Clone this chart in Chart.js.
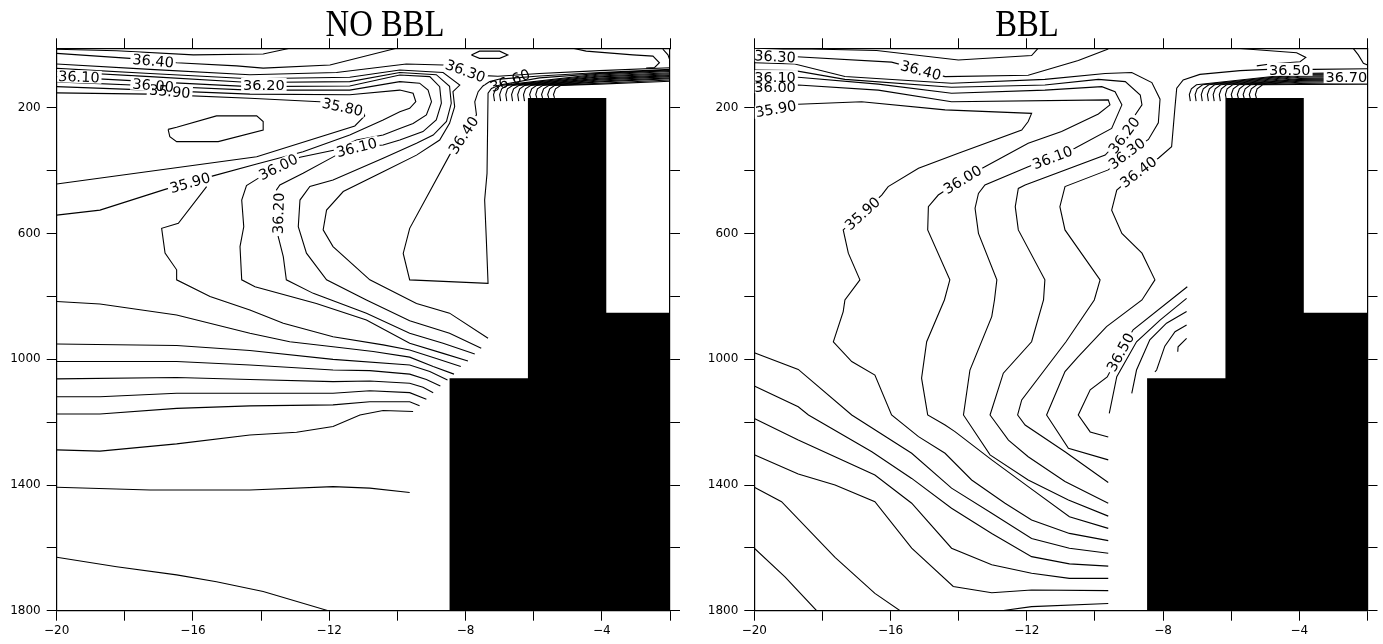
<!DOCTYPE html>
<html>
<head>
<meta charset="utf-8">
<script src="https://cdn.jsdelivr.net/npm/chart.js@4/dist/chart.umd.min.js"></script>
<style>
  html, body { margin: 0; padding: 0; background: #fff; }
  #wrap { position: relative; width: 1383px; height: 644px; }
  #left { position: absolute; left: 0; top: 0; }
  #right { position: absolute; left: 697px; top: 0; }
</style>
</head>
<body>
<div id="wrap">
  <canvas id="left" width="697" height="644"></canvas>
  <canvas id="right" width="686" height="644"></canvas>
</div>
<script>
// axes
const xTicks = [-20, -18, -16, -14, -12, -10, -8, -6, -4, -2];
const xLabels = [-20, -16, -12, -8, -4];
const yTicks = [200, 400, 600, 800, 1000, 1200, 1400, 1600, 1800];
const yLabels = [200, 600, 1000, 1400, 1800];

// topography (masked region), same in both runs
const topoX = [-8.47, -8.47, -6.17, -6.17, -3.87, -3.87, -2, -2];
const topoY = [1800, 1060, 1060, 168, 168, 852, 852, 1800];

// salinity contours, NO BBL run: [longitude, depth] pairs
const noBblLines = [
  [[-20,13],[-18.24,18],[-15.99,31],[-13.94,28],[-13.16,10]],
  [[-20,26],[-17.85,42],[-16.48,56],[-14.72,66],[-13.94,73],[-11.98,63],[-10.03,10]],
  [[-20,60],[-17.26,77],[-14.33,94],[-11.79,87],[-9.74,60],[-8.66,63],[-7.98,84],[-7.45,97],[-7.05,99],[-5.83,90],[-4.07,81],[-2,72]],
  [[-2,77],[-4.07,87],[-5.83,98],[-7.0,108],[-7.29,116],[-7.49,130],[-7.63,148],[-7.73,180],[-7.68,222],[-8.07,286],[-8.47,350],[-9.64,583],[-9.83,663],[-9.64,747],[-7.34,758],[-7.39,620],[-7.44,493],[-7.37,408],[-7.34,153],[-7.24,138],[-7.0,127],[-5.83,104],[-4.07,90],[-2,79]],
  [[-20,74],[-17.26,90],[-14.33,107],[-11.40,102],[-9.93,79],[-8.66,87],[-8.17,127],[-8.37,148],[-8.32,196],[-8.47,249],[-8.76,302],[-9.44,350],[-10.42,403],[-11.59,466],[-12.08,525],[-12.18,588],[-11.89,641],[-10.81,747],[-9.44,822],[-8.47,853],[-7.34,933]],
  [[-20,84],[-17.26,100],[-14.33,119],[-11.40,116],[-9.93,87],[-8.86,94],[-8.47,131],[-8.42,185],[-8.56,243],[-8.95,286],[-9.44,312],[-10.42,360],[-11.89,429],[-12.57,450],[-12.86,493],[-12.91,578],[-12.67,662],[-12.08,747],[-10.91,811],[-9.64,877],[-8.47,917],[-7.54,965]],
  [[-20,100],[-17.26,116],[-14.33,132],[-11.40,130],[-9.93,95],[-9.05,100],[-8.76,132],[-8.71,185],[-8.86,238],[-9.25,275],[-9.93,302],[-10.42,318],[-11.20,325],[-11.79,350],[-12.77,408],[-13.45,445],[-13.55,461],[-13.50,535],[-13.50,609],[-13.35,673],[-13.26,747],[-12.47,790],[-10.91,853],[-9.64,917],[-8.66,949],[-7.73,983]],
  [[-20,117],[-17.26,129],[-14.33,143],[-11.40,143],[-9.93,116],[-9.35,121],[-9.10,143],[-9.00,180],[-9.15,222],[-9.54,249],[-9.93,265],[-10.42,286],[-11.20,302],[-11.84,334],[-12.86,357],[-13.45,387],[-14.09,424],[-14.43,447],[-14.57,493],[-14.51,578],[-14.62,641],[-14.57,747],[-14.18,769],[-12.38,822],[-10.91,875],[-9.64,949],[-8.66,981],[-7.93,1005]],
  [[-20,132],[-17.26,143],[-14.33,156],[-11.40,158],[-9.93,143],[-9.54,153],[-9.46,180],[-9.64,201],[-9.93,212],[-10.42,238],[-11.40,286],[-12.77,339],[-14.13,378],[-15.41,416],[-16.82,459],[-18.73,525],[-20,541]],
  [[-20,152],[-17.26,156],[-14.33,169],[-12.28,180],[-11.40,201],[-11.01,212],[-10.96,225],[-11.25,257],[-14.13,355],[-20,442]],
  [[-15.60,450],[-16.43,567],[-16.92,583],[-16.82,662],[-16.48,715],[-16.48,747],[-15.50,800],[-14.33,843],[-13.35,885],[-11.89,928],[-10.42,954],[-9.64,970],[-8.86,997],[-8.14,1023]],
  [[-20,816],[-18.73,824],[-16.48,859],[-14.33,917],[-13.16,944],[-11.89,960],[-10.71,975],[-9.64,993],[-8.95,1023],[-8.34,1047]],
  [[-20,951],[-16.48,956],[-14.33,972],[-11.89,1000],[-9.64,1018],[-9.05,1039],[-8.53,1066]],
  [[-20,1007],[-16.48,1007],[-14.33,1018],[-11.89,1034],[-10.81,1036],[-9.64,1047],[-9.15,1064],[-8.74,1085]],
  [[-20,1062],[-16.48,1058],[-14.33,1064],[-11.89,1071],[-10.81,1069],[-9.64,1076],[-9.25,1089],[-8.95,1106]],
  [[-20,1119],[-18.73,1119],[-16.48,1108],[-11.89,1108],[-10.81,1100],[-9.64,1106],[-9.15,1127]],
  [[-20,1174],[-18.73,1174],[-16.48,1156],[-14.33,1148],[-11.89,1145],[-10.81,1135],[-9.64,1135],[-9.35,1148]],
  [[-20,1288],[-18.73,1292],[-16.48,1269],[-14.33,1241],[-12.96,1232],[-11.89,1214],[-11.10,1177],[-10.42,1163],[-9.54,1166]],
  [[-20,1407],[-17.26,1416],[-14.33,1416],[-11.89,1405],[-10.81,1410],[-9.64,1424]],
  [[-20,1630],[-18.24,1660],[-16.48,1686],[-15.31,1708],[-13.94,1739],[-12.03,1800]],
  [[-16.73,268],[-16.48,261],[-15.31,225],[-14.13,225],[-13.94,243],[-13.94,270],[-15.26,307],[-16.48,307],[-16.68,291],[-16.73,268]],
  [[-7.83,31],[-7.59,19],[-7.0,19],[-6.76,31],[-7.0,42],[-7.59,42],[-7.83,31]],
  [[-4.85,10],[-4.46,19],[-3.09,31],[-2.50,35],[-2.31,56],[-2.45,71],[-2.70,73]],
  [[-2.21,13],[-2.06,31],[-2.0,49]]
];
const noBblHooks = [
  [[-7.15,178],[-7.18,157],[-7.12,139],[-6.96,128],[-4.07,92],[-2,81]],
  [[-6.97,178],[-7.00,157],[-6.94,139],[-6.78,128],[-4.07,95],[-2,84]],
  [[-6.79,178],[-6.82,157],[-6.77,139],[-6.61,128],[-4.07,98],[-2,88]],
  [[-6.62,178],[-6.65,157],[-6.59,139],[-6.43,128],[-4.07,101],[-2,91]],
  [[-6.44,178],[-6.47,157],[-6.41,139],[-6.26,128],[-4.07,105],[-2,94]],
  [[-6.27,178],[-6.30,157],[-6.24,139],[-6.08,128],[-4.07,108],[-2,97]],
  [[-6.09,168],[-6.12,157],[-6.06,139],[-5.91,128],[-4.07,111],[-2,100]],
  [[-5.91,168],[-5.94,157],[-5.89,139],[-5.73,128],[-4.07,114],[-2,104]],
  [[-5.74,168],[-5.77,157],[-5.71,139],[-5.55,128],[-4.07,117],[-2,107]],
  [[-5.56,168],[-5.59,157],[-5.53,139],[-5.38,128],[-4.07,121],[-2,111]],
  [[-5.39,168],[-5.42,157],[-5.36,139],[-5.20,128],[-4.07,124],[-2,115]]
];
const noBblLabelText = ['36.40','36.10','36.00','35.90','36.20','35.80','36.30','36.60','36.40','36.10','36.00','35.90','36.20'];
const noBblLabelAt = [[-17.17,49],[-19.35,100],[-17.17,127],[-16.68,146],[-13.92,125],[-11.61,196],[-8.0,81],[-6.70,112],[-8.07,286],[-11.20,325],[-13.50,387],[-16.09,437],[-13.50,535]];

// salinity contours, BBL run
const bblLines = [
  [[-20,12],[-18.32,12],[-16.41,17],[-14.01,47],[-11.86,33],[-11.67,10]],
  [[-20,32],[-18.76,37],[-15.97,54],[-15.11,79],[-14.40,100],[-11.96,96],[-10.49,49],[-9.61,12]],
  [[-20,56],[-18.81,60],[-17.34,100],[-14.21,121],[-11.47,109],[-9.70,90],[-8.92,87],[-8.33,119],[-8.09,172],[-8.14,247],[-8.43,300],[-9.02,344],[-9.61,397],[-10.88,450],[-11.03,514],[-10.88,588],[-9.85,747],[-10.02,811],[-10.85,944],[-12.15,1129],[-12.27,1177],[-12.05,1209],[-10.88,1294],[-9.61,1392]],
  [[-20,79],[-18.81,81],[-17.34,109],[-14.21,134],[-11.47,127],[-9.90,109],[-9.11,116],[-8.67,159],[-8.62,190],[-8.92,238],[-9.15,286],[-9.70,350],[-12.05,445],[-12.25,456],[-12.34,514],[-12.25,588],[-11.47,747],[-11.51,811],[-11.86,944],[-12.69,1044],[-13.08,1177],[-12.54,1257],[-11.96,1310],[-10.88,1389],[-9.61,1458]],
  [[-20,100],[-18.71,102],[-16.36,124],[-14.21,153],[-11.47,143],[-9.80,132],[-9.41,148],[-9.21,190],[-9.51,265],[-10.59,328],[-11.25,357],[-11.96,387],[-13.23,445],[-13.42,472],[-13.52,519],[-13.42,599],[-12.88,747],[-12.95,811],[-13.03,864],[-13.67,1034],[-13.86,1177],[-13.08,1304],[-11.96,1384],[-10.78,1448],[-9.61,1499]],
  [[-20,130],[-18.71,127],[-16.36,143],[-14.21,180],[-9.61,174],[-9.56,190],[-9.90,219],[-10.98,275],[-11.96,312],[-13.23,387],[-13.89,427],[-14.60,477],[-14.89,514],[-14.91,588],[-14.26,747],[-14.42,811],[-14.94,944],[-15.09,1060],[-14.91,1177],[-14.40,1209],[-14.11,1230],[-13.03,1320],[-11.96,1405],[-10.75,1501],[-9.61,1538]],
  [[-20,212],[-18.71,188],[-16.85,180],[-14.40,206],[-11.86,217],[-11.96,243],[-12.15,270],[-14.01,344],[-15.18,392],[-16.07,450],[-16.26,477],[-16.83,535],[-17.39,588],[-17.24,662],[-16.90,747],[-17.34,811],[-17.39,848],[-17.68,944],[-17.14,1007],[-16.46,1050],[-15.97,1177],[-15.18,1246],[-14.40,1299],[-13.62,1384],[-12.64,1458],[-11.86,1511],[-10.75,1554],[-9.61,1577]],
  [[-2,75],[-3.59,77],[-4.91,77],[-5.74,81],[-6.92,93],[-7.41,111],[-7.60,137],[-7.65,196],[-7.75,323],[-8.14,360],[-8.73,403],[-9.36,461],[-9.51,525],[-9.21,599],[-8.62,662],[-8.24,747],[-8.62,811],[-9.66,896],[-10.49,991],[-10.88,1039],[-11.42,1177],[-10.78,1283],[-9.61,1320]],
  [[-7.29,769],[-8.88,906],[-9.26,977],[-9.64,1056],[-10.14,1097],[-10.49,1177],[-10.14,1231],[-9.61,1247]],
  [[-7.31,806],[-8.09,875],[-8.78,944],[-9.36,1055],[-9.58,1172]],
  [[-7.31,848],[-7.90,885],[-8.39,938],[-8.78,1034],[-8.92,1108]],
  [[-7.31,891],[-7.65,912],[-7.95,958],[-8.19,1034],[-8.24,1040]],
  [[-7.31,933],[-7.56,960],[-7.57,976]],
  [[-20,979],[-18.71,1032],[-17.14,1177],[-15.38,1299],[-14.21,1410],[-13.03,1490],[-11.86,1570],[-10.75,1601],[-9.61,1617]],
  [[-20,1085],[-18.71,1151],[-18.41,1177],[-16.55,1294],[-15.38,1379],[-14.21,1474],[-13.03,1554],[-11.86,1628],[-10.75,1651],[-9.61,1658]],
  [[-20,1188],[-18.71,1257],[-16.46,1368],[-15.38,1458],[-14.21,1601],[-13.03,1654],[-11.86,1681],[-10.75,1697],[-9.61,1697]],
  [[-20,1304],[-18.71,1365],[-17.63,1400],[-16.46,1453],[-15.38,1601],[-14.16,1723],[-13.03,1743],[-11.86,1734],[-9.61,1736]],
  [[-20,1407],[-19.20,1453],[-17.63,1630],[-16.46,1745],[-15.72,1800]],
  [[-20,1601],[-19.10,1692],[-18.17,1800]],
  [[-12.74,1800],[-11.86,1787],[-9.61,1777]],
  [[-5.84,10],[-4.08,24],[-3.81,39],[-3.98,53],[-4.86,60],[-5.25,66]],
  [[-2.42,10],[-2.27,31],[-2.12,58],[-2.0,63]]
];
const bblHooks = [
  [[-7.20,178],[-7.23,157],[-7.17,139],[-7.02,126],[-3.98,90],[-2,86]],
  [[-7.03,178],[-7.06,157],[-7.00,139],[-6.84,126],[-3.98,93],[-2,89]],
  [[-6.85,178],[-6.88,157],[-6.82,139],[-6.66,126],[-3.98,96],[-2,92]],
  [[-6.67,178],[-6.70,157],[-6.64,139],[-6.49,126],[-3.98,99],[-2,95]],
  [[-6.50,178],[-6.53,157],[-6.47,139],[-6.31,126],[-3.98,102],[-2,98]],
  [[-6.32,178],[-6.35,157],[-6.29,139],[-6.14,126],[-3.98,106],[-2,101]],
  [[-6.15,169],[-6.17,157],[-6.12,139],[-5.96,126],[-3.98,109],[-2,105]],
  [[-5.97,169],[-6.00,157],[-5.94,139],[-5.78,126],[-3.98,112],[-2,108]],
  [[-5.79,169],[-5.82,157],[-5.76,139],[-5.61,126],[-3.98,115],[-2,111]],
  [[-5.62,169],[-5.65,157],[-5.59,139],[-5.43,126],[-3.98,118],[-2,115]],
  [[-5.44,169],[-5.47,157],[-5.41,139],[-5.25,126],[-3.98,122],[-2,119]],
  [[-5.26,169],[-5.29,157],[-5.24,139],[-5.08,126],[-3.98,125],[-2,124]]
];
const bblLabelText = ['36.30','36.40','36.10','36.00','35.90','35.90','36.00','36.10','36.20','36.30','36.40','36.50','36.50','36.70'];
const bblLabelAt = [[-19.39,35],[-15.11,79],[-19.39,100],[-19.39,132],[-19.37,202],[-16.83,535],[-13.89,427],[-11.25,357],[-9.15,286],[-9.07,344],[-8.73,403],[-9.26,977],[-4.28,77],[-2.62,100]];

// label drawing style: rotation in degrees, and whether the line is cut under the label
const noBblLabelAngle = [5, 2, 5, 5, 0, 12, 20, -20, -56, -14, -26, -16, -88];
const noBblLabelGap = [1, 1, 1, 1, 1, 1, 1, 0, 1, 1, 1, 1, 1];
const bblLabelAngle = [3, 15, 0, 0, -10, -42, -31, -21, -53, -37, -37, -61, 0, 0];
const bblLabelGap = [1, 1, 1, 1, 1, 1, 1, 1, 1, 1, 1, 1, 1, 1];

function toDatasets(lines) {
  return lines.map(pts => ({
    data: pts.map(([x, y]) => ({ x, y })),
    showLine: true,
    borderColor: '#000',
    borderWidth: 1.1,
    pointRadius: 0,
    pointHoverRadius: 0,
    fill: false,
    tension: 0
  }));
}

function makeDecor(title, titleX, text, at, angle, gap) {
  return {
    id: 'panelDecor',
    afterDatasetsDraw(chart) {
      const { ctx, chartArea: a, scales: { x, y } } = chart;
      ctx.save();
      ctx.beginPath();
      ctx.rect(a.left + 0.5, a.top + 0.5, a.right - a.left - 1, a.bottom - a.top - 1);
      ctx.clip();
      // topography
      ctx.beginPath();
      topoX.forEach((v, i) => {
        const px = x.getPixelForValue(v), py = y.getPixelForValue(topoY[i]);
        if (i) ctx.lineTo(px, py); else ctx.moveTo(px, py);
      });
      ctx.closePath();
      ctx.fillStyle = '#000';
      ctx.fill();
      // contour labels: white gap first, then text
      ctx.font = '14.5px "DejaVu Sans"';
      const pos = at.map(([vx, vy]) => [x.getPixelForValue(vx), y.getPixelForValue(vy)]);
      pos.forEach(([px, py], i) => {
        if (!gap[i]) return;
        const w = ctx.measureText(text[i]).width;
        ctx.save();
        ctx.translate(px, py);
        ctx.rotate(angle[i] * Math.PI / 180);
        ctx.fillStyle = '#fff';
        ctx.fillRect(-w / 2 - 2, -6.5, w + 4, 13);
        ctx.restore();
      });
      ctx.fillStyle = '#000';
      ctx.textAlign = 'center';
      ctx.textBaseline = 'alphabetic';
      pos.forEach(([px, py], i) => {
        ctx.save();
        ctx.translate(px, py);
        ctx.rotate(angle[i] * Math.PI / 180);
        ctx.fillText(text[i], 0, 5.2);
        ctx.restore();
      });
      ctx.restore();
    },
    afterDraw(chart) {
      const ctx = chart.ctx;
      ctx.save();
      ctx.font = '38px "Liberation Serif"';
      ctx.fillStyle = '#000';
      ctx.textAlign = 'center';
      ctx.textBaseline = 'alphabetic';
      ctx.translate(titleX, 36);
      ctx.scale(0.86, 1);
      ctx.fillText(title, 0, 0);
      ctx.restore();
    }
  };
}

const tickFont = { family: 'DejaVu Sans', size: 12 };

function xAxis(pos, h, labels) {
  return {
    type: 'linear', position: pos, min: -20, max: -2,
    afterBuildTicks: s => { s.ticks = xTicks.map(v => ({ value: v })); },
    afterFit: s => { s.height = h; },
    grid: { drawOnChartArea: false, drawTicks: true, tickLength: 10, color: '#000', lineWidth: 1 },
    border: { display: true, color: '#000', width: 1.2 },
    ticks: {
      autoSkip: false, maxRotation: 0, minRotation: 0, padding: 3, color: '#000', font: tickFont,
      callback: v => (labels && xLabels.includes(v)) ? String(v).replace('-', '\u2212') : ''
    }
  };
}

function yAxis(pos, w, labels) {
  return {
    type: 'linear', position: pos, reverse: true, min: 10, max: 1800,
    afterBuildTicks: s => { s.ticks = yTicks.map(v => ({ value: v })); },
    afterFit: s => { s.width = w; },
    grid: { drawOnChartArea: false, drawTicks: true, tickLength: 10, color: '#000', lineWidth: 1 },
    border: { display: true, color: '#000', width: 1.2 },
    ticks: {
      autoSkip: false, padding: 6, color: '#000', font: tickFont,
      callback: v => (labels && yLabels.includes(v)) ? String(v) : ''
    }
  };
}

function makePanel(id, lines, hooks, title, titleX, text, at, angle, gap, leftW, rightW) {
  return new Chart(document.getElementById(id), {
    type: 'scatter',
    data: { datasets: toDatasets(lines.concat(hooks)) },
    options: {
      responsive: false,
      animation: false,
      events: [],
      layout: { padding: 0, autoPadding: false },
      plugins: { legend: { display: false }, tooltip: { enabled: false } },
      scales: {
        x: xAxis('bottom', 33.3, true),
        xTop: xAxis('top', 48.3, false),
        y: yAxis('left', leftW, true),
        yRight: yAxis('right', rightW, false)
      }
    },
    plugins: [makeDecor(title, titleX, text, at, angle, gap)]
  });
}

makePanel('left', noBblLines, noBblHooks, 'NO BBL', 385, noBblLabelText, noBblLabelAt, noBblLabelAngle, noBblLabelGap, 56.7, 27);
makePanel('right', bblLines, bblHooks, 'BBL', 330, bblLabelText, bblLabelAt, bblLabelAngle, bblLabelGap, 57.3, 15.5);
</script>
</body>
</html>
